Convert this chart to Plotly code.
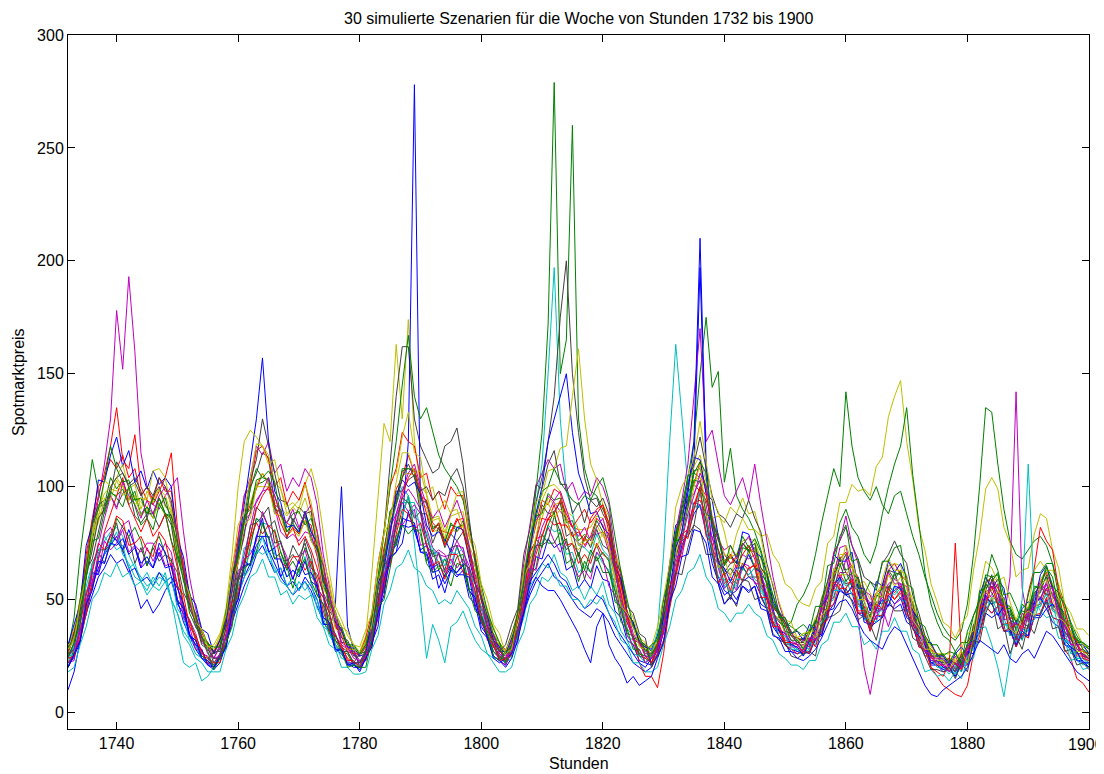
import plotly.graph_objects as go

hours = list(range(1732, 1901))
x_ticks = [1740, 1760, 1780, 1800, 1820, 1840, 1860, 1880, 1900]
x_tick_text = ["1740", "1760", "1780", "1800", "1820", "1840", "1860", "1880", ""]
last_x_label = "1900"
y_ticks = [0, 50, 100, 150, 200, 250, 300]

s01 = [10,18,32,44,56,64,70,74,78,72,64,56,46,50,44,48,54,58,50,40,34,28,24,21,
       19,22,30,40,52,60,66,74,78,72,66,60,56,52,55,58,54,47,40,36,48,100,38,28,
       20,26,31,47,54,71,74,86,85,84,71,70,59,61,53,63,60,63,51,48,36,33,25,23,
       21,27,33,49,56,69,68,77,73,75,63,65,55,59,55,65,59,58,45,42,32,30,23,22,
       21,25,36,50,62,72,80,110,197,105,70,60,54,52,54,58,60,58,52,46,40,34,30,27,
       26,27,26,33,34,45,46,55,52,53,44,44,36,43,42,52,48,51,42,40,29,28,21,21,
       18,19,16,21,21,32,35,47,44,47,36,37,29,35,33,43,43,50,42,41,30,29,23,23,20]
s02 = [27,35,44,65,76,91,92,104,99,103,94,98,87,91,86,95,88,86,70,61,46,41,33,30,
       26,32,38,57,68,85,88,101,102,104,88,90,80,84,79,89,77,73,56,50,38,36,29,28,
       25,32,38,58,70,89,93,108,108,107,92,94,81,84,75,84,80,85,69,65,50,44,33,30,
       26,33,41,60,74,98,124,172,279,150,165,260,130,108,98,96,90,84,66,58,44,40,31,29,
       26,33,42,63,74,89,92,106,104,100,81,77,65,69,66,75,71,73,61,58,46,44,36,35,
       32,33,31,40,42,55,58,69,63,65,53,53,45,52,51,63,59,63,51,49,36,33,26,26,
       23,24,21,25,26,38,44,57,54,57,45,44,37,42,42,53,53,61,51,49,38,35,28,28,25]
s03 = [30,36,50,68,84,96,106,118,135,112,108,123,100,94,92,98,104,115,82,64,52,42,35,31,
       27,30,41,55,70,85,92,99,106,101,96,87,84,82,79,85,83,70,62,49,40,36,29,27,
       25,29,40,56,73,86,99,104,114,106,96,94,84,81,80,79,85,86,73,61,54,42,33,30,
       28,31,43,59,72,83,94,92,99,97,86,82,81,74,78,86,83,73,65,53,43,39,31,28,
       26,33,44,61,77,86,98,101,111,97,84,78,70,66,69,75,72,75,64,60,47,43,39,34,
       33,32,36,38,45,56,60,68,71,64,60,51,47,53,55,63,66,61,58,47,40,31,28,26,
       25,23,22,25,28,38,46,57,60,55,50,42,41,40,46,51,58,62,55,50,40,36,30,27,26]
s04 = [24,30,42,56,66,72,76,80,82,78,70,64,60,56,58,62,60,50,36,22,20,22,14,16,
       20,26,33,50,58,73,74,86,84,83,70,69,60,63,61,69,60,57,42,39,28,28,21,21,
       20,24,34,48,64,80,92,100,96,75,50,24,39,32,22,38,40,45,38,32,28,26,24,24,
       22,28,33,50,59,74,75,83,80,81,70,71,62,65,62,71,66,63,50,46,34,32,25,24,
       22,28,36,53,61,76,79,91,91,85,69,66,55,58,55,64,61,64,53,51,39,38,31,30,
       27,28,27,35,36,48,51,59,57,57,48,46,39,45,46,56,54,56,46,43,32,29,22,22,
       19,20,17,22,22,33,38,49,48,49,39,38,32,37,36,46,47,53,45,43,33,30,24,24,21]
s05 = [28,34,48,64,80,96,110,130,178,152,193,160,115,100,92,90,96,100,104,80,60,46,36,30,
       24,29,37,53,66,80,89,93,98,99,91,80,77,79,76,80,79,69,53,47,40,30,28,26,
       22,27,38,49,66,82,88,95,99,95,90,82,73,70,69,70,76,71,65,53,46,38,32,27,
       25,28,43,56,71,85,89,96,93,89,86,78,75,73,78,79,80,71,60,53,45,35,30,28,
       25,33,41,62,73,84,93,97,103,92,77,72,63,61,65,70,68,70,60,55,44,41,36,32,
       30,30,32,36,42,51,56,62,62,59,53,47,44,47,51,57,59,57,50,44,36,30,25,24,
       21,21,20,24,25,35,43,53,56,53,45,41,37,39,43,49,54,57,52,46,38,33,28,26,24]
s06 = [29,37,46,66,80,90,97,100,104,100,95,96,93,91,95,99,96,88,73,61,47,43,34,31,
       27,33,44,60,74,87,93,101,106,101,93,91,87,91,94,101,108,98,79,62,47,41,34,30,
       27,34,62,95,128,120,163,130,174,120,100,97,86,87,80,87,88,89,74,67,52,46,35,31,
       27,34,45,61,77,89,94,100,101,98,89,87,81,81,82,87,86,78,66,56,45,39,33,29,
       29,34,46,66,79,91,98,109,114,102,87,79,70,69,70,76,77,76,68,60,50,45,40,36,
       33,35,35,42,46,56,63,70,70,67,58,55,50,53,57,65,66,65,57,50,39,34,29,26,
       24,24,23,26,29,39,47,58,60,58,49,46,41,43,46,54,59,63,57,51,41,36,31,29,27]
s07 = [20,27,32,50,55,71,66,76,84,71,78,66,73,65,73,67,70,68,49,47,34,32,25,23,
       27,27,42,49,67,78,100,106,115,113,92,90,77,86,81,87,76,72,61,45,41,31,31,25,
       25,30,40,56,80,110,140,162,162,130,118,112,106,108,118,120,126,110,86,66,52,42,34,29,
       21,29,37,46,68,74,74,76,87,80,72,75,70,59,69,74,67,62,58,43,40,33,25,24,
       26,28,45,63,68,80,94,101,98,94,85,67,62,66,67,63,72,71,60,51,48,43,35,34,
       31,31,29,38,46,45,59,68,62,56,60,49,42,49,48,63,62,54,53,47,34,30,28,23,
       22,24,19,26,23,39,40,54,61,47,48,34,41,36,47,45,55,60,47,47,35,34,27,27,24]
s08 = [20,26,36,44,52,60,64,70,66,68,62,64,58,60,56,62,58,60,48,44,34,30,24,22,
       20,24,30,40,48,56,62,70,74,68,62,64,56,58,54,60,56,50,40,36,28,26,22,20,
       20,24,32,44,56,68,76,84,120,278,90,74,64,66,60,64,62,66,54,50,40,34,27,24,
       22,26,34,44,52,58,62,66,60,58,54,50,46,44,42,46,44,40,34,30,26,22,20,18,
       20,26,36,50,62,74,80,88,92,80,66,58,52,54,50,56,54,56,48,46,38,34,30,28,
       27,26,27,32,36,44,48,54,52,50,44,42,38,40,42,48,46,48,40,38,30,27,22,21,
       19,20,18,22,22,30,36,44,42,44,36,36,30,34,34,42,42,46,40,38,30,28,23,22,20]
s09 = [28,42,70,92,112,98,88,97,96,99,92,95,88,91,88,95,88,87,70,63,48,44,33,31,
       27,32,39,59,70,87,90,103,104,103,90,89,80,83,80,89,80,75,58,53,40,37,30,29,
       26,32,39,59,70,89,94,107,108,107,94,93,82,83,76,83,82,83,70,65,50,44,34,31,
       26,33,41,61,72,87,88,97,94,95,84,85,76,79,76,85,80,77,62,57,43,39,31,30,
       27,34,44,65,75,91,94,107,108,100,83,78,66,69,66,75,72,75,64,61,47,45,38,40,
       48,52,58,70,84,96,108,100,142,118,104,98,94,100,92,88,96,98,88,78,70,60,52,44,
       38,34,32,36,48,70,100,135,133,110,90,76,70,68,72,76,78,74,66,56,48,40,34,30,28]
s10 = [26,34,46,70,86,100,104,112,108,114,104,108,96,100,94,104,98,98,78,66,50,42,32,29,
       27,32,42,64,78,96,100,116,118,112,100,104,92,98,94,102,90,80,60,52,38,34,27,26,
       26,33,44,66,80,100,108,124,120,118,104,106,94,98,90,100,96,96,78,70,52,44,32,28,
       23,30,36,54,63,77,78,86,83,84,74,75,66,70,66,75,70,68,54,49,37,34,22,16,
       16,11,26,48,62,79,81,93,94,88,72,68,57,60,57,66,63,66,55,53,40,39,32,31,
       28,29,28,36,37,49,51,61,57,58,48,47,39,46,46,56,53,56,46,43,31,30,20,18,
       16,22,75,26,21,33,38,51,48,50,39,40,32,38,37,47,48,55,46,44,33,31,25,25,22]
s11 = [22,30,40,52,60,66,70,76,72,74,64,66,58,62,56,60,58,60,46,42,32,30,24,23,
       21,26,34,44,52,60,64,72,70,72,62,64,56,60,54,58,52,50,38,36,28,27,22,22,
       21,27,33,50,59,77,81,93,93,93,81,80,70,71,65,71,70,73,61,57,43,38,29,26,
       22,28,35,54,70,92,110,150,197,130,98,89,74,73,70,79,72,69,54,50,37,34,26,25,
       22,29,37,55,63,77,79,91,92,86,70,66,56,59,56,64,61,64,54,52,39,38,31,31,
       28,29,28,35,36,48,50,60,56,57,47,46,38,45,45,55,52,55,45,43,30,29,22,23,
       20,21,18,23,22,34,38,50,48,50,39,39,31,37,36,46,47,53,45,44,32,31,24,24,22]
s12 = [22,23,38,43,59,62,76,72,75,81,71,74,64,73,67,73,65,66,57,42,38,28,28,21,
       24,30,40,60,76,96,104,118,114,120,106,110,98,104,100,108,104,92,70,56,42,36,28,27,
       23,23,37,52,57,72,87,93,89,92,88,74,70,72,70,63,74,73,61,51,47,39,29,26,
       24,32,44,66,84,100,106,112,108,110,98,102,94,98,96,104,100,92,72,60,44,38,30,28,
       22,28,35,54,69,69,82,93,92,79,78,64,55,58,54,66,65,57,57,52,39,36,34,29,
       29,30,29,37,41,55,60,73,74,60,42,20,8,24,38,52,54,57,46,43,32,30,23,23,
       20,21,18,24,24,36,40,53,51,53,41,60,142,55,40,49,50,57,48,46,34,33,26,26,23]
s13 = [27,34,43,64,73,88,89,99,98,101,94,96,87,90,86,93,87,86,68,61,46,42,32,30,
       26,31,38,57,66,83,86,100,100,100,88,87,78,81,78,85,76,71,55,50,37,35,28,28,
       25,31,38,57,68,87,92,105,106,105,92,91,80,81,74,81,80,83,70,65,49,43,33,30,
       26,33,40,60,70,85,86,95,92,93,82,83,74,77,74,83,78,75,60,55,41,38,30,29,
       26,33,42,63,72,87,90,103,104,99,86,87,84,91,88,95,88,89,78,79,70,66,57,55,
       50,48,47,55,58,75,78,93,93,101,98,99,96,109,113,131,140,147,120,103,82,72,57,49,
       40,38,33,39,43,63,78,99,104,99,82,75,60,63,64,79,88,86,72,64,48,44,37,37,34]
s14 = [26,28,45,63,68,80,92,96,91,97,99,87,84,88,88,82,88,83,66,53,48,41,31,29,
       22,26,31,49,63,65,78,91,88,82,85,75,67,70,66,77,70,55,51,44,32,29,27,22,
       26,27,42,49,69,78,98,98,103,105,88,88,75,82,73,79,76,80,73,57,51,38,35,27,
       27,35,43,63,74,93,104,120,140,175,200,150,124,104,94,95,88,83,66,59,44,40,32,30,
       21,29,39,48,70,76,78,83,98,84,70,68,61,50,60,65,60,60,60,47,43,37,30,30,
       31,33,30,40,39,55,54,65,70,55,57,42,49,45,57,55,61,62,47,46,33,32,25,25,
       21,23,22,18,31,36,41,47,59,53,43,45,40,32,44,52,51,55,56,43,40,33,26,26,24]
s15 = [30,39,48,74,83,103,102,114,122,109,116,102,107,99,107,101,104,100,77,69,52,48,37,35,
       26,32,39,59,72,92,110,130,157,120,98,93,82,83,80,89,80,75,58,53,40,37,29,29,
       25,26,41,57,64,80,96,103,100,102,97,83,78,80,77,71,82,81,68,57,52,43,32,29,
       26,33,41,59,72,88,100,120,130,140,150,124,106,98,88,89,82,79,64,59,44,40,31,29,
       28,34,43,66,83,85,100,113,112,97,94,78,67,70,66,80,79,71,69,62,49,44,42,35,
       36,32,39,37,47,51,70,67,67,71,55,55,45,58,56,67,62,66,60,45,41,31,31,25,
       25,21,26,29,25,35,52,60,55,59,55,41,39,46,49,48,61,65,55,47,44,38,30,30,26]
s16 = [20,28,37,45,66,72,72,74,86,82,78,82,76,65,74,78,70,67,62,46,41,33,25,24,
       21,25,29,46,60,61,74,86,83,77,81,71,63,67,62,73,67,52,48,42,30,27,26,21,
       20,27,30,48,55,75,74,87,96,80,81,67,72,63,68,62,69,70,55,53,40,36,27,25,
       23,25,38,44,61,64,79,75,75,80,66,68,58,67,62,69,62,62,54,40,37,28,28,22,
       25,30,42,60,78,92,104,120,150,175,144,151,102,117,96,90,86,80,72,62,52,44,40,38,
       36,34,36,40,48,58,70,84,90,82,78,70,66,74,88,100,110,118,135,105,84,62,48,40,
       34,32,27,31,31,43,48,61,60,61,48,47,40,45,44,55,56,65,56,53,40,38,31,31,28]
s17 = [22,26,32,44,58,68,80,88,96,104,92,86,80,86,78,82,88,76,64,48,40,32,27,24,
       22,25,30,42,54,66,78,90,96,100,92,84,78,82,74,78,72,64,52,44,34,29,24,22,
       21,24,30,42,56,70,82,96,104,108,98,88,80,84,74,80,86,80,70,58,46,38,29,25,
       22,26,32,46,58,70,78,86,88,94,88,82,86,90,84,88,92,80,66,52,40,33,26,24,
       22,26,32,46,60,72,82,92,100,96,84,72,66,70,64,70,74,68,58,50,40,36,30,28,
       26,28,26,34,35,46,48,57,53,55,44,44,37,43,43,53,50,53,43,41,29,28,20,16,
       12,10,8,7,12,26,34,47,44,47,36,37,29,35,33,43,44,51,42,41,28,24,15,13,9]
s18 = [23,26,40,52,66,70,78,74,80,70,66,60,58,54,60,56,62,50,44,36,32,26,24,22,
       22,24,34,44,56,62,72,70,78,68,64,58,56,52,58,54,58,46,42,34,30,24,23,21,
       21,23,36,44,63,71,84,87,96,87,84,75,73,66,68,66,73,67,64,51,47,34,31,24,
       22,24,34,42,56,60,66,64,70,62,60,54,56,50,56,52,58,48,44,36,32,26,25,22,
       26,36,70,120,163,130,100,90,98,80,73,60,59,53,59,59,64,59,57,46,43,34,34,28,
       28,25,31,30,40,43,54,54,59,52,50,41,42,40,49,50,56,50,49,38,34,25,25,20,
       20,17,21,18,25,28,42,45,51,44,42,34,35,32,39,41,50,48,48,38,36,26,27,21,22]
s19 = [22,24,39,54,57,68,79,82,76,83,85,74,71,75,75,69,75,71,56,45,41,35,26,25,
       20,26,33,40,61,68,70,76,89,82,73,75,69,59,68,72,62,55,51,37,34,28,22,22,
       22,23,36,41,59,66,84,83,87,90,74,75,63,71,62,68,64,68,63,48,44,32,30,23,
       21,27,31,49,64,63,74,82,76,71,76,67,60,63,59,71,68,56,52,46,34,30,28,22,
       24,30,44,62,80,94,110,140,170,120,125,110,96,92,98,104,94,110,92,76,60,48,40,36,
       30,32,33,32,47,52,55,58,68,61,52,53,48,41,54,62,57,57,56,42,38,31,24,24,
       24,20,25,19,27,30,50,50,52,57,41,42,32,44,41,51,50,58,55,42,39,30,30,25,24]
s20 = [30,32,50,61,80,86,103,100,104,110,99,101,90,98,93,99,91,90,78,59,52,40,37,30,
       28,34,46,70,100,120,125,122,118,114,102,99,88,91,88,95,86,81,62,55,41,38,30,29,
       26,32,39,59,79,85,102,115,115,106,107,96,85,86,77,89,90,82,78,69,53,44,38,30,
       27,34,42,63,76,93,96,107,108,117,118,140,161,130,110,103,92,87,70,63,48,42,33,31,
       25,33,40,62,69,87,86,100,110,87,83,64,68,60,69,65,71,72,57,56,43,42,35,34,
       33,35,36,36,51,57,61,64,74,67,57,58,53,46,59,68,63,63,61,46,42,34,27,26,
       26,26,22,28,35,36,54,67,64,58,60,49,41,48,46,63,67,63,63,57,44,38,36,30,29]
s21 = [27,35,47,60,84,92,94,97,111,106,101,104,98,86,96,100,92,87,79,60,53,43,33,31,
       26,28,42,54,75,86,103,112,130,118,106,94,93,84,91,88,89,72,65,49,45,33,32,26,
       22,26,31,49,65,69,84,95,93,86,89,78,69,70,63,73,74,66,64,57,43,36,32,24,
       27,29,44,52,71,76,92,88,89,93,78,80,69,78,73,81,74,72,63,47,43,33,32,26,
       26,30,46,59,79,90,102,110,122,108,96,88,86,82,88,86,94,86,80,66,56,44,40,34,
       33,31,36,40,50,58,70,76,82,74,68,60,58,56,66,70,76,70,66,52,44,34,30,26,
       22,22,18,24,30,29,45,57,53,48,51,41,34,40,38,53,56,52,53,48,36,32,30,25,24]
s22 = [20,25,31,48,62,61,71,79,76,72,81,73,66,69,64,75,71,60,55,48,35,30,28,21,
       20,25,28,46,50,67,65,78,86,71,73,60,66,59,67,61,62,57,39,39,27,28,21,22,
       18,24,31,38,59,68,71,75,89,81,72,74,67,55,61,65,61,61,60,46,42,33,24,22,
       24,26,36,44,58,62,66,70,66,60,58,52,50,46,48,52,50,44,38,34,30,26,22,20,
       24,27,42,54,73,80,97,120,210,110,82,66,64,58,64,64,70,64,62,50,46,36,35,30,
       29,25,32,37,34,43,56,60,52,56,54,40,39,46,50,47,56,55,45,37,34,30,22,23,
       20,20,16,22,27,26,41,52,48,43,47,37,30,36,34,48,51,46,48,44,32,29,27,22,22]
s23 = [28,32,50,64,83,90,103,118,108,102,103,94,95,88,95,92,95,84,75,58,53,40,37,30,
       29,29,45,62,69,84,99,108,104,107,102,87,84,88,89,83,86,76,59,48,44,38,30,30,
       26,30,42,60,80,100,120,145,167,140,130,135,124,114,108,104,100,94,82,68,56,45,37,31,
       22,30,34,54,60,77,73,83,89,74,77,64,71,63,72,67,71,67,49,47,35,34,26,25,
       25,31,39,60,76,77,91,103,102,88,86,71,61,64,60,73,72,64,63,57,44,40,38,32,
       32,28,35,41,38,48,62,66,58,62,59,45,43,51,55,53,62,61,50,41,38,33,25,25,
       26,22,27,21,30,33,54,55,58,62,46,46,36,48,45,56,55,64,60,47,43,33,33,28,26]
s24 = [24,25,34,52,63,75,72,78,87,85,74,75,78,72,69,80,76,64,56,52,38,34,27,22,
       22,22,35,49,52,64,77,84,79,83,80,67,64,69,69,63,67,59,45,36,34,30,23,23,
       20,25,29,46,62,65,79,90,88,81,84,74,65,67,59,70,70,62,61,54,41,34,30,23,
       24,27,41,51,71,76,86,85,92,83,83,78,80,76,86,90,92,84,70,56,44,32,31,25,
       22,30,36,56,62,79,77,90,100,78,75,57,62,54,63,58,64,65,51,51,38,38,31,31,
       30,26,33,29,39,41,58,55,55,59,45,45,36,48,46,55,50,54,50,37,33,25,25,21,
       21,18,22,19,28,31,46,48,56,48,47,37,39,38,53,64,82,76,72,54,46,34,32,24,23]
s25 = [18,20,30,38,50,54,62,60,66,60,62,56,58,52,56,54,58,50,44,34,30,24,22,18,
       18,18,28,34,46,52,60,62,68,60,60,52,54,48,52,50,52,42,38,30,28,20,20,17,
       17,18,28,34,48,54,64,66,72,64,62,56,54,48,50,48,54,50,46,38,34,26,22,18,
       18,20,30,36,48,52,60,58,62,56,56,50,50,46,50,48,52,44,40,32,30,22,22,18,
       18,20,30,38,50,54,62,64,70,60,56,46,44,40,44,44,48,44,42,34,32,26,24,21,
       21,19,23,23,30,32,40,40,44,38,38,30,32,28,36,36,42,36,36,28,26,18,19,16,
       17,14,18,15,23,24,37,38,30,20,7,24,36,50,110,50,45,42,43,33,32,23,24,19,20]
s26 = [25,28,36,48,62,74,86,96,90,102,96,92,86,94,88,96,100,92,80,62,50,38,33,26,
       24,25,34,44,58,70,82,94,98,104,96,88,84,90,82,88,92,80,66,52,42,31,29,24,
       23,25,34,44,60,74,88,98,106,110,100,92,86,90,82,88,94,86,74,60,50,37,34,26,
       24,27,36,48,62,72,82,88,94,98,90,82,78,82,76,82,86,76,64,50,42,32,31,25,
       24,27,38,50,66,76,88,96,106,100,86,76,72,74,68,74,78,70,62,52,44,37,35,31,
       30,27,33,34,47,54,71,76,87,74,66,54,52,44,46,38,48,50,52,40,37,27,26,22,
       21,18,22,20,29,32,47,50,58,50,48,38,40,36,45,46,57,54,55,43,41,30,30,25,25]
s27 = [28,32,48,60,79,84,95,94,103,96,99,92,95,94,107,108,104,90,78,60,52,40,37,29,
       30,35,43,64,83,89,104,119,118,110,112,99,91,93,90,101,93,75,67,58,44,38,36,30,
       29,37,44,66,79,103,106,122,133,115,113,97,100,89,94,88,97,98,79,74,57,50,39,35,
       26,28,43,60,66,78,90,93,86,90,87,75,72,76,77,73,80,73,58,47,44,38,29,28,
       29,38,51,66,91,100,105,113,129,111,94,89,80,68,79,86,81,81,78,63,57,49,41,40,
       33,29,36,33,43,46,64,61,61,65,50,50,40,53,51,61,56,60,55,41,37,28,28,23,
       23,19,24,27,22,32,48,55,49,54,50,37,35,42,45,43,56,59,50,42,40,35,27,27,24]
s28 = [24,31,42,60,72,86,90,100,104,106,100,102,96,100,96,104,100,94,76,62,46,40,30,28,
       24,24,38,44,60,66,83,84,87,91,75,76,65,74,69,75,64,61,53,38,35,27,27,22,
       22,28,36,54,66,84,92,104,110,104,98,100,94,98,96,104,108,100,84,68,50,40,31,27,
       30,39,46,70,81,101,99,110,116,101,101,88,93,84,94,91,95,88,67,62,47,44,35,33,
       20,25,31,48,62,61,73,83,81,70,70,57,48,52,47,59,58,50,51,46,35,32,31,25,
       24,26,27,25,39,42,43,45,55,49,41,43,39,32,44,50,45,45,46,33,31,25,19,19,
       18,20,15,22,18,32,31,44,50,37,39,26,34,28,39,35,44,49,37,38,27,28,21,22,19]
s29 = [20,26,32,48,54,67,66,75,74,77,70,73,64,67,64,71,64,65,50,46,34,32,24,23,
       20,24,29,44,50,65,66,78,78,78,68,68,60,63,60,67,58,56,42,40,28,28,21,21,
       19,24,29,44,52,69,71,83,82,83,71,71,62,63,57,63,62,65,54,51,38,34,25,23,
       20,24,32,44,54,60,56,54,54,50,45,40,35,28,22,38,44,30,24,20,13,16,12,14,
       16,24,31,49,56,69,70,81,80,75,60,57,48,51,48,56,53,56,46,45,34,33,27,27,
       24,23,25,28,33,39,45,49,50,46,40,35,32,30,28,34,38,36,30,24,18,12,8,7,
       10,12,14,16,20,26,32,30,28,26,30,24,22,26,28,24,30,36,34,30,26,22,18,16,14]
s30 = [25,31,39,60,76,77,89,98,95,91,100,91,83,86,81,92,88,76,69,59,44,38,34,27,
       19,24,31,38,58,64,66,71,84,77,68,71,65,55,64,68,58,52,48,35,32,27,20,21,
       20,20,33,47,50,64,78,83,79,82,79,66,62,65,62,56,66,65,54,45,42,35,25,23,
       26,30,44,58,78,86,98,100,108,102,98,94,92,96,94,100,104,94,78,62,50,38,34,27,
       30,32,50,61,80,86,105,106,111,106,84,79,65,74,69,78,73,77,71,56,52,42,42,35,
       37,39,36,47,47,65,66,78,83,67,68,52,58,54,67,67,73,74,57,55,40,38,30,30,
       25,27,26,22,36,43,50,57,70,63,52,53,47,40,52,62,62,66,66,52,48,39,32,31,29]

scenarios = [s01, s02, s03, s04, s05, s06, s07, s08, s09, s10,
             s11, s12, s13, s14, s15, s16, s17, s18, s19, s20,
             s21, s22, s23, s24, s25, s26, s27, s28, s29, s30]

color_order = ["#0000FF", "#008000", "#FF0000", "#00BFBF",
               "#BF00BF", "#BFBF00", "#404040"]

fig = go.Figure()
bad = []
for i, s in enumerate(scenarios):
    if len(s) != len(hours):
        bad.append((i + 1, len(s)))
    n = min(len(s), len(hours))
    fig.add_trace(go.Scatter(
        x=hours[:n], y=s[:n], mode="lines",
        line=dict(color=color_order[i % 7], width=1),
        showlegend=False, hoverinfo="skip"))

font_family = "Liberation Sans, Arial, sans-serif"
axis_common = dict(
    showline=True, linecolor="black", linewidth=1, mirror="ticks",
    ticks="inside", ticklen=7, tickcolor="black", tickwidth=1,
    showgrid=False, zeroline=False,
    tickfont=dict(family=font_family, size=16, color="black"),
)

# the page body has an 8px margin, so the figure starts 8px in from the corner
fig.update_layout(
    width=1096, height=766,
    margin=dict(l=60, r=15, t=27, b=45),
    paper_bgcolor="white", plot_bgcolor="white",
    xaxis=dict(range=[1732, 1900], tickvals=x_ticks, ticktext=x_tick_text,
               **axis_common),
    yaxis=dict(range=[-7.3, 300], tickvals=y_ticks, **axis_common),
    annotations=[
        dict(text="30 simulierte Szenarien für die Woche von Stunden 1732 bis 1900",
             xref="paper", yref="paper", x=0.5, y=1.0389, xanchor="center",
             yanchor="top", showarrow=False,
             font=dict(family=font_family, size=16, color="black")),
        dict(text="Stunden", xref="paper", yref="paper", x=0.5, y=-0.049,
             xanchor="center", yanchor="middle", showarrow=False,
             font=dict(family=font_family, size=16, color="black")),
        dict(text="Spotmarktpreis", xref="paper", yref="paper", x=-0.049, y=0.5,
             xanchor="center", yanchor="middle", textangle=-90, showarrow=False,
             font=dict(family=font_family, size=16, color="black")),
        # label of the last x tick, kept inside the page edge
        dict(text=last_x_label, xref="x", yref="paper", x=x_ticks[-1], y=-0.023,
             xanchor="center", yanchor="middle", xshift=-3, showarrow=False,
             font=dict(family=font_family, size=16, color="black")),
    ],
)

fig.write_html("out.html")
if bad:
    raise SystemExit("length mismatch: %s" % bad)
